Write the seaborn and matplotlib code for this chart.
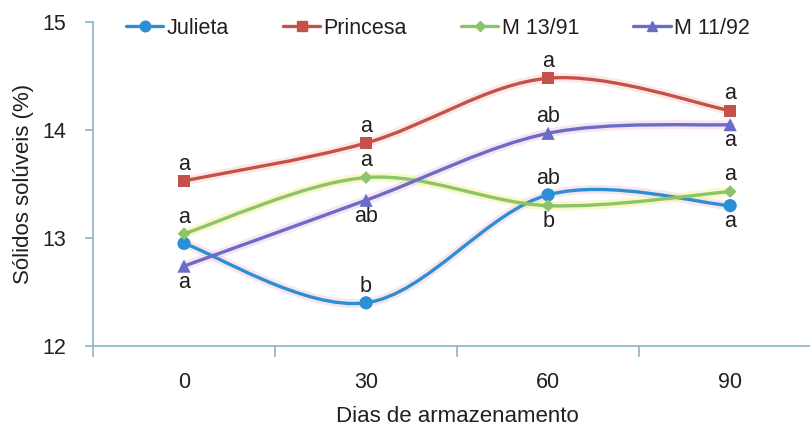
import numpy as np
import pandas as pd
import matplotlib
matplotlib.use("Agg")
import matplotlib.pyplot as plt
from matplotlib.path import Path
from matplotlib.patches import PathPatch
from matplotlib.lines import Line2D
import seaborn as sns

# Storage days and soluble solids (%) per cultivar
dias = ["0", "30", "60", "90"]
julieta = [12.95, 12.40, 13.40, 13.30]
princesa = [13.53, 13.88, 14.48, 14.18]
m1391 = [13.04, 13.56, 13.30, 13.43]
m1192 = [12.74, 13.35, 13.97, 14.05]

# Significance letters (None = no letter) and whether they sit above the point
let_julieta = [None, "b", "ab", "a"]
pos_julieta = [True, True, True, False]
let_princesa = ["a", "a", "a", "a"]
pos_princesa = [True, True, True, True]
let_m1391 = ["a", "a", "b", "a"]
pos_m1391 = [True, True, False, True]
let_m1192 = ["a", "ab", "ab", "a"]
pos_m1192 = [False, False, True, False]

# name: values, letters, letter side, colour, halo colour, marker, marker size
series = {
    "Julieta": (julieta, let_julieta, pos_julieta, "#2b8fd6", "#f2c9d6", "o", 9.5),
    "Princesa": (princesa, let_princesa, pos_princesa, "#c4524a", "#f6cfc8", "s", 8.5),
    "M 13/91": (m1391, let_m1391, pos_m1391, "#8cc46a", "#f4f08a", "D", 6.5),
    "M 11/92": (m1192, let_m1192, pos_m1192, "#6a6cc8", "#f0c6e0", "^", 9.5),
}

sns.set_theme(style="white")
plt.rcParams["font.family"] = ["Liberation Sans", "DejaVu Sans"]
FS = 15.5
TXT = "#231f20"

fig = plt.figure(figsize=(8.1, 4.29), dpi=100)
ax = fig.add_axes([0.1148, 0.1935, 0.899, 0.755])

rows = []
for name, (vals, *_rest) in series.items():
    for i, v in enumerate(vals):
        rows.append({"serie": name, "x": i, "y": v})
df = pd.DataFrame(rows)


def smooth_path(xs, ys):
    # Cardinal (Catmull-Rom) Bezier segments through the data points
    pts = np.column_stack([xs, ys]).astype(float)
    n = len(pts)
    verts = [pts[0]]
    codes = [Path.MOVETO]
    for i in range(n - 1):
        p0 = pts[i - 1] if i > 0 else pts[i]
        p1, p2 = pts[i], pts[i + 1]
        p3 = pts[i + 2] if i + 2 < n else pts[i + 1]
        c1 = p1 + (p2 - p0) / 6.0
        c2 = p2 - (p3 - p1) / 6.0
        verts += [c1, c2, p2]
        codes += [Path.CURVE4] * 3
    return Path(verts, codes)


handles = []
for name, (vals, letters, above, color, halo, marker, ms) in series.items():
    path = smooth_path(range(len(vals)), vals)
    ax.add_patch(PathPatch(path, facecolor="none", edgecolor=halo,
                           lw=6.5, alpha=0.45, zorder=1.5, capstyle="round"))
    ax.add_patch(PathPatch(path, facecolor="none", edgecolor=color,
                           lw=2.4, zorder=2, capstyle="round"))
    handles.append(Line2D([], [], color=color, lw=2.4, marker=marker,
                          markersize=ms * 0.8, label=name))
    for i, (v, lt, up) in enumerate(zip(vals, letters, above)):
        if lt is None:
            continue
        ax.annotate(lt, (i, v), xytext=(0, 12 if up else -11.5),
                    textcoords="offset points", ha="center", va="center",
                    fontsize=FS, color=TXT)

sns.scatterplot(data=df, x="x", y="y", hue="serie", style="serie",
                palette={k: v[3] for k, v in series.items()},
                markers={k: v[5] for k, v in series.items()},
                size="serie", sizes={k: v[6] ** 2 for k, v in series.items()},
                edgecolor="none", legend=False, ax=ax, zorder=3)

ax.set_xlim(-0.5, 3.5)
ax.set_ylim(12, 15)
ax.set_yticks([12, 13, 14, 15])
ax.set_xticks(np.arange(-0.5, 4.0, 1.0))
ax.set_xticklabels([])
ax.set_xticks(range(len(dias)), minor=True)
ax.set_xticklabels(dias, minor=True)

axis_c = "#8ab4cf"
for s in ["top", "right"]:
    ax.spines[s].set_visible(False)
for s in ["left", "bottom"]:
    ax.spines[s].set_color(axis_c)
    ax.spines[s].set_linewidth(1.2)
ax.tick_params(axis="y", which="major", direction="out", length=6,
               width=1.2, color=axis_c, pad=13, labelsize=FS, left=True,
               labelcolor=TXT)
ax.tick_params(axis="x", which="major", direction="out", length=8,
               width=1.2, color=axis_c, bottom=True)
ax.tick_params(axis="x", which="minor", length=0, pad=19, labelsize=FS,
               labelcolor=TXT)

ax.set_xlabel("Dias de armazenamento", fontsize=16, labelpad=9, color=TXT)
ax.set_ylabel("Sólidos solúveis (%)", fontsize=16, labelpad=6, color=TXT)
ax.grid(False)

ax.legend(handles=handles, loc="center left", bbox_to_anchor=(0.045, 0.981),
          ncol=4, frameon=False, fontsize=FS, handlelength=1.75,
          handletextpad=0.15, columnspacing=2.5, borderpad=0,
          borderaxespad=0, labelcolor=TXT)

fig.savefig("out.png", dpi=100)
